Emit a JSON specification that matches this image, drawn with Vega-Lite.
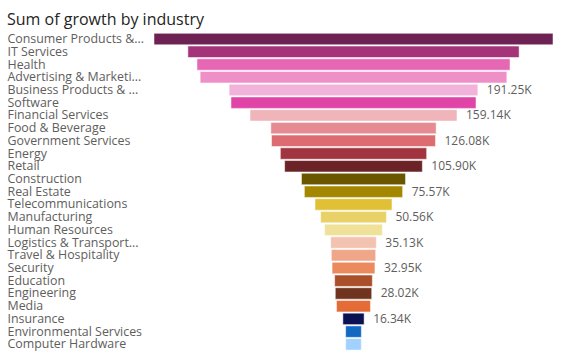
{
  "$schema": "https://vega.github.io/schema/vega-lite/v6.json",
  "autosize": {"type": "none"},
  "padding": {"left": 154, "top": 32.7, "right": 15, "bottom": 9.3},
  "width": 399,
  "height": 318,
  "title": {
    "text": "Sum of growth by industry",
    "anchor": "start",
    "frame": "bounds",
    "font": "Open Sans",
    "fontSize": 16,
    "fontWeight": "normal",
    "color": "#252423",
    "offset": 5
  },
  "data": {
    "values": [
      {"industry": "Consumer Products &...", "growth": 306800, "labeled": false},
      {"industry": "IT Services", "growth": 254700, "labeled": false},
      {"industry": "Health", "growth": 240700, "labeled": false},
      {"industry": "Advertising & Marketi...", "growth": 235800, "labeled": false},
      {"industry": "Business Products & ...", "growth": 191250, "labeled": true},
      {"industry": "Software", "growth": 188400, "labeled": false},
      {"industry": "Financial Services", "growth": 159140, "labeled": true},
      {"industry": "Food & Beverage", "growth": 127100, "labeled": false},
      {"industry": "Government Services", "growth": 126080, "labeled": true},
      {"industry": "Energy", "growth": 112500, "labeled": false},
      {"industry": "Retail", "growth": 105900, "labeled": true},
      {"industry": "Construction", "growth": 80000, "labeled": false},
      {"industry": "Real Estate", "growth": 75570, "labeled": true},
      {"industry": "Telecommunications", "growth": 59200, "labeled": false},
      {"industry": "Manufacturing", "growth": 50560, "labeled": true},
      {"industry": "Human Resources", "growth": 44400, "labeled": false},
      {"industry": "Logistics & Transport...", "growth": 35130, "labeled": true},
      {"industry": "Travel & Hospitality", "growth": 34100, "labeled": false},
      {"industry": "Security", "growth": 32950, "labeled": true},
      {"industry": "Education", "growth": 29000, "labeled": false},
      {"industry": "Engineering", "growth": 28020, "labeled": true},
      {"industry": "Media", "growth": 26100, "labeled": false},
      {"industry": "Insurance", "growth": 16340, "labeled": true},
      {"industry": "Environmental Services", "growth": 12100, "labeled": false},
      {"industry": "Computer Hardware", "growth": 12000, "labeled": false}
    ]
  },
  "transform": [
    {"calculate": "datum.labeled ? format(datum.growth / 1000, '.2f') + 'K' : ''", "as": "label"}
  ],
  "encoding": {
    "y": {
      "field": "industry",
      "type": "nominal",
      "sort": null,
      "scale": {"paddingInner": 0.1, "paddingOuter": 0.05},
      "axis": {
        "title": null,
        "domain": false,
        "ticks": false,
        "labelAlign": "left",
        "labelPadding": 147,
        "labelFont": "Open Sans",
        "labelFontSize": 12.4,
        "labelColor": "#605E5C",
        "labelLimit": 0
      }
    },
    "x": {
      "field": "growth",
      "type": "quantitative",
      "stack": "center",
      "scale": {"nice": false},
      "axis": null
    }
  },
  "layer": [
    {
      "mark": {"type": "bar", "stroke": "white", "strokeOpacity": 0.5, "strokeWidth": 1},
      "encoding": {
        "color": {
          "field": "industry",
          "type": "nominal",
          "legend": null,
          "scale": {
            "domain": ["Consumer Products &...", "IT Services", "Health", "Advertising & Marketi...", "Business Products & ...", "Software", "Financial Services", "Food & Beverage", "Government Services", "Energy", "Retail", "Construction", "Real Estate", "Telecommunications", "Manufacturing", "Human Resources", "Logistics & Transport...", "Travel & Hospitality", "Security", "Education", "Engineering", "Media", "Insurance", "Environmental Services", "Computer Hardware"],
            "range": ["#6E2153", "#A5337A", "#E668B5", "#EE8FC8", "#F2B3DA", "#E044A7", "#F0B5BA", "#E68B91", "#DD6B72", "#A1343E", "#6B2328", "#6B5600", "#A48700", "#E0C135", "#E8D166", "#F0E199", "#F4C2B0", "#F0A789", "#EB895F", "#A9502A", "#70331D", "#E66C37", "#0B1152", "#1269C2", "#A0D1FF"]
          }
        }
      }
    },
    {
      "mark": {"type": "text", "align": "left", "baseline": "middle", "dx": 9, "font": "Open Sans", "fontSize": 12, "color": "#605E5C"},
      "encoding": {
        "text": {"field": "label"}
      }
    }
  ],
  "config": {"view": {"stroke": null}}
}
